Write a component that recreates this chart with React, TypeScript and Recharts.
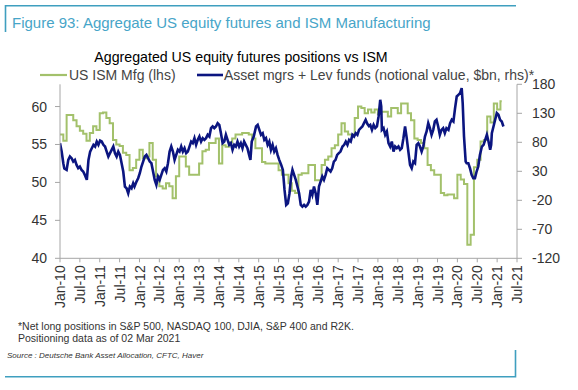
import React from "react";
import { LineChart, Line, XAxis, YAxis } from "recharts";

// US ISM Manufacturing, monthly, starting Jan 2010
const ismValues: number[] = [
  56.3, 55.5, 58.9, 58.9, 58.2, 57.4, 56.8, 56.4, 55.5, 56.5, 57.4, 56.9,
  59.1, 59.2, 58.5, 57.8, 55.6, 55.0, 54.8, 53.9, 53.6, 51.6, 51.9, 53.0,
  54.3, 53.2, 53.4, 55.2, 53.0, 50.8, 49.5, 49.2, 49.9, 49.5, 47.9, 50.8,
  53.4, 53.4, 52.1, 51.0, 51.0, 51.0, 52.5, 54.1, 54.3, 55.2, 55.2, 55.8,
  52.5, 54.9, 54.7, 55.3, 55.8, 56.3, 56.3, 56.5, 56.5, 56.3, 55.8, 54.5,
  54.5, 52.7, 52.5, 52.5, 52.5, 52.5, 51.6, 51.0, 51.0, 49.9, 48.9, 48.6,
  51.0, 51.2, 51.2, 52.3, 52.3, 50.3, 50.3, 52.3, 53.0, 53.4, 54.5, 54.9,
  56.3, 57.8, 56.7, 56.3, 56.3, 58.5, 60.0, 59.8, 59.1, 59.6, 59.2, 59.6,
  59.0, 59.3, 59.3, 58.7, 59.8, 59.8, 59.1, 60.4, 60.4, 59.1, 58.2, 55.8,
  55.6, 55.2, 54.5, 52.3, 51.6, 51.0, 51.0, 48.6, 48.3, 48.4, 48.4, 47.9,
  51.0, 50.4, 49.8, 41.8, 43.1, 52.0, 53.0, 55.4, 55.6, 58.7, 57.9, 60.4,
  59.6, 60.7,
];

// Asset managers + leveraged funds net positioning ($bn); months since Jan 2010
const posMonths: number[] = [
  0, 0.5, 1, 1.3, 2, 2.5, 3, 3.5, 4, 4.5, 5, 5.5, 6, 6.5, 7, 7.5, 8.1, 8.6, 9.1, 9.6,
  10.1, 10.6, 11.1, 11.6, 12.1, 12.6, 13.1, 13.6, 14.1, 14.6, 15.1, 15.6, 16.1, 16.6, 17.1, 17.6, 18.1, 18.6, 19.1, 19.6,
  20.1, 20.6, 21.1, 21.6, 22.1, 22.5, 23.1, 23.6, 24.1, 24.6, 25.1, 25.6, 26.1, 26.6, 27.1, 27.6, 28.1, 28.6, 29.1, 29.6,
  30.1, 30.6, 31.1, 31.6, 32.1, 32.6, 33.1, 33.6, 34.1, 34.6, 35.1, 35.6, 36.1, 36.6, 37.1, 37.6, 38.1, 38.6, 39.1, 39.6,
  40.1, 40.6, 41.1, 41.6, 42.1, 42.6, 43.1, 43.6, 44.1, 44.6, 45.1, 45.6, 46.1, 46.6, 47.1, 47.6, 48.1, 48.6, 49.1, 49.6,
  50.1, 50.6, 51.1, 51.6, 52.1, 52.6, 53.1, 53.6, 54.1, 54.6, 55.1, 55.6, 56.1, 56.6, 57.1, 57.5, 57.9, 58.5, 59.2, 59.7,
  60.2, 60.7, 61.2, 61.7, 62.2, 62.7, 63.2, 63.7, 64.2, 64.7, 65.2, 65.7, 66.2, 66.8, 67.3, 67.8, 68.3, 68.8, 69.3, 69.8,
  70.2, 70.7, 71.2, 71.7, 72.2, 72.7, 73.2, 73.7, 74.2, 74.7, 75.2, 75.7, 76.2, 76.7, 77.2, 77.7, 78.2, 78.7, 79.2, 79.7,
  80.2, 80.7, 81.2, 81.7, 82.2, 82.7, 83.2, 83.7, 84.2, 84.7, 85.3, 85.8, 86.3, 86.8, 87.3, 87.8, 88.3, 88.8, 89.3, 89.8,
  90.3, 90.8, 91.3, 91.8, 92.3, 92.8, 93.3, 93.7, 94.2, 94.7, 95.2, 95.7, 96.2, 96.7, 97.0, 97.2, 97.7, 98.2, 98.7, 99.2,
  99.7, 100.2, 100.7, 101.2, 101.7, 102.2, 102.7, 103.2, 103.7, 104.2, 104.7, 105.2, 105.7, 106.2, 106.7, 107.2, 107.7, 108.2, 108.7, 109.2,
  109.7, 110.2, 110.7, 111.2, 111.7, 112.2, 112.7, 113.2, 113.7, 114.2, 114.7, 115.2, 115.7, 116.2, 116.7, 117.3, 117.8, 118.3, 118.8, 119.3,
  119.8, 120.3, 120.8, 121.3, 121.6, 122.0, 122.5, 122.8, 123.3, 123.8, 124.3, 124.8, 125.3, 125.8, 126.3, 126.8, 127.4, 127.9, 128.4, 128.9,
  129.4, 129.9, 130.2, 130.4, 130.9, 131.4, 131.9, 132.4, 132.9, 133.4, 133.9,
];
const posValues: number[] = [
  78.5, 64, 44, 35, 32.4, 49.7, 55.5, 52.6, 46.8, 49.7, 41, 35.3, 38, 32.4, 29.6, 23.8, 15.2, 49.7, 64, 69.8,
  75.6, 72.7, 81.3, 75.6, 83, 81.3, 75.6, 72.7, 64, 55.5, 61.2, 67, 72.7, 61.2, 55.5, 64, 58.3, 44, 29.6, 3.7,
  0.8, -7.8, 3.7, 0.8, 9.4, 3.7, 12.3, 18, 26.7, 38.2, 46.8, 55.5, 58.3, 52.6, 46.8, 44, 29.6, 15.2, 6.6, 21,
  15.2, 23.8, 32.4, 35.3, 29.6, 44, 64, 72.7, 64, 49.7, 58.3, 67, 64, 72.7, 64, 69.8, 61.2, 64, 72.7, 81.3,
  78.5, 87.1, 75.6, 84.2, 90, 81.3, 87.1, 84.2, 87.1, 92.9, 90, 104.4, 107.3, 104.4, 107.3, 113, 110.1, 95.7, 78.5, 81.3,
  92.9, 84.2, 75.6, 78.5, 67, 75.6, 72.7, 81.3, 72.7, 78.5, 69.8, 81.3, 75.6, 69.8, 58.3, 49.7, 81.3, 90, 107.3, 110.1,
  101.5, 92.9, 95.7, 84.2, 87.1, 75.6, 81.3, 67, 75.6, 64, 69.8, 58.3, 49.7, 41, 32.4, -2.1, -28, -25.1, -7.8, 21,
  32.4, 23.8, 15.2, 3.7, -7.8, -28, -30.8, -28, -30.8, -28, -22.2, -2.1, -10.7, 3.7, -7.8, -28, 3.7, 12.3, 21, 15.2,
  23.8, 35.3, 32.4, 29.6, 35.3, 46.8, 49.7, 58.3, 61.2, 64, 72.7, 75.6, 81.3, 75.6, 84.2, 81.3, 92.9, 90, 95.7, 92.9,
  101.5, 104.4, 107.3, 113, 118.8, 112, 108, 110, 101.5, 110.1, 104.4, 107.3, 124.5, 153.3, 141.8, 101.5, 104.4, 92.9, 98.6, 78.5,
  72.7, 81.3, 64, 72.7, 69.8, 72.7, 67, 69.8, 87.1, 107.3, 87.1, 64, 41, 35.3, 46.8, 44, 75.6, 78.5, 72.7, 64,
  72.7, 90, 98.6, 113, 104.4, 92.9, 101.5, 115.9, 118.8, 107.3, 92.9, 101.5, 104.4, 95.7, 104.4, 101.5, 113, 118.8, 115.9, 138.9,
  159, 161.9, 164.8, 173.4, 147.5, 90, 46.8, 44, 44, 35.3, 23.8, 18, 18, 29.6, 38.2, 58.3, 72.7, 75.6, 84.2, 92.9,
  81.3, 67, 75.6, 95.7, 107.3, 118.8, 130.3, 127.4, 118.8, 115.9, 107.3,
];

const xTickLabels: string[] = [
  "Jan-10", "Jul-10", "Jan-11", "Jul-11", "Jan-12", "Jul-12", "Jan-13", "Jul-13",
  "Jan-14", "Jul-14", "Jan-15", "Jul-15", "Jan-16", "Jul-16", "Jan-17", "Jul-17",
  "Jan-18", "Jul-18", "Jan-19", "Jul-19", "Jan-20", "Jul-20", "Jan-21", "Jul-21",
];
const leftTicks: number[] = [40, 45, 50, 55, 60];
const rightTicks: number[] = [-120, -70, -20, 30, 80, 130, 180];

const START = 2010;
const ismData = ismValues.map((v, i) => ({ t: START + i / 12, ism: v }));
ismData.push({ t: START + (ismValues.length - 0.6) / 12, ism: ismValues[ismValues.length - 1] });
const posData = posMonths.map((m, i) => ({ t: START + m / 12, pos: posValues[i] }));
const xTicks = xTickLabels.map((_, i) => START + i * 0.5);

const FONT = "'Liberation Sans', Arial, Helvetica, sans-serif";
const GREEN = "#a3c16b";
const NAVY = "#0b1580";
const TEAL = "#3f9fbf";
const AXIS = "#a6a6a6";

const XTick = (props: any) => {
  const { x, y, payload } = props;
  const idx = xTicks.findIndex((v) => Math.abs(v - payload.value) < 1e-6);
  const label = idx >= 0 ? xTickLabels[idx] : "";
  const ty = y + 1;
  return (
    <text
      x={x}
      y={ty}
      transform={`rotate(-90 ${x} ${ty})`}
      textAnchor="end"
      dy="0.36em"
      fill="#333"
      fontSize={14}
      fontFamily={FONT}
    >
      {label}
    </text>
  );
};

export default function App() {
  return (
    <div style={{ position: "absolute", left: 0, top: 0, width: 578, height: 390, background: "#fff", fontFamily: FONT }}>
      <LineChart
        width={578}
        height={390}
        margin={{ top: 84.3, right: 11, bottom: 86.7, left: 20 }}
        style={{ position: "absolute", left: 0, top: 0 }}
      >
        <XAxis
          dataKey="t"
          type="number"
          domain={[2010, 2021.5]}
          ticks={xTicks}
          interval={0}
          allowDataOverflow
          height={45}
          stroke={AXIS}
          tickSize={4}
          tick={<XTick />}
        />
        <YAxis
          yAxisId="left"
          orientation="left"
          domain={[40, 62.93]}
          ticks={leftTicks}
          allowDataOverflow
          width={40}
          stroke={AXIS}
          tickSize={5}
          tickMargin={8}
          tick={{ fill: "#333", fontSize: 14, fontFamily: FONT }}
        />
        <YAxis
          yAxisId="right"
          orientation="right"
          domain={[-120, 180]}
          ticks={rightTicks}
          allowDataOverflow
          width={50}
          stroke={AXIS}
          tickSize={5}
          tickMargin={10}
          tick={{ fill: "#333", fontSize: 14, fontFamily: FONT, textAnchor: "start" }}
        />
        <Line
          yAxisId="left"
          data={ismData}
          dataKey="ism"
          type="stepAfter"
          stroke={GREEN}
          strokeWidth={2}
          dot={false}
          isAnimationActive={false}
        />
        <Line
          yAxisId="right"
          data={posData}
          dataKey="pos"
          type="linear"
          stroke={NAVY}
          strokeWidth={2.6}
          dot={false}
          isAnimationActive={false}
        />
      </LineChart>
      <svg width={578} height={390} style={{ position: "absolute", left: 0, top: 0, pointerEvents: "none" }}>
        <path d="M5.5,32 V5.7 H516" fill="none" stroke={TEAL} strokeWidth={1.6} />
        <text x={12} y={27.5} fontSize={15} fill="#47a5c8" fontFamily={FONT}>
          Figure 93: Aggregate US equity futures and ISM Manufacturing
        </text>
        <text x={241} y={62} fontSize={14.2} fill="#000" fontFamily={FONT} textAnchor="middle">
          Aggregated US equity futures positions vs ISM
        </text>
        <line x1={40} y1={75} x2={67} y2={75} stroke={GREEN} strokeWidth={2.2} />
        <text x={69} y={79.5} fontSize={14} fill="#444" fontFamily={FONT}>US ISM Mfg (lhs)</text>
        <line x1={197} y1={75} x2={223} y2={75} stroke={NAVY} strokeWidth={2.6} />
        <text x={224} y={79.5} fontSize={14} fill="#444" fontFamily={FONT}>
          Asset mgrs + Lev funds (notional value, $bn, rhs)*
        </text>
        <text x={18} y={329.5} fontSize={10.5} fill="#333" fontFamily={FONT}>
          *Net long positions in S&amp;P 500, NASDAQ 100, DJIA, S&amp;P 400 and R2K.
        </text>
        <text x={18} y={342} fontSize={10.5} fill="#333" fontFamily={FONT}>
          Positioning data as of 02 Mar 2021
        </text>
        <text x={7} y={357.5} fontSize={8} fill="#333" fontStyle="italic" fontFamily={FONT}>
          Source : Deutsche Bank Asset Allocation, CFTC, Haver
        </text>
        <path d="M5,376.7 H515.5 V350" fill="none" stroke={TEAL} strokeWidth={1.6} />
      </svg>
    </div>
  );
}
